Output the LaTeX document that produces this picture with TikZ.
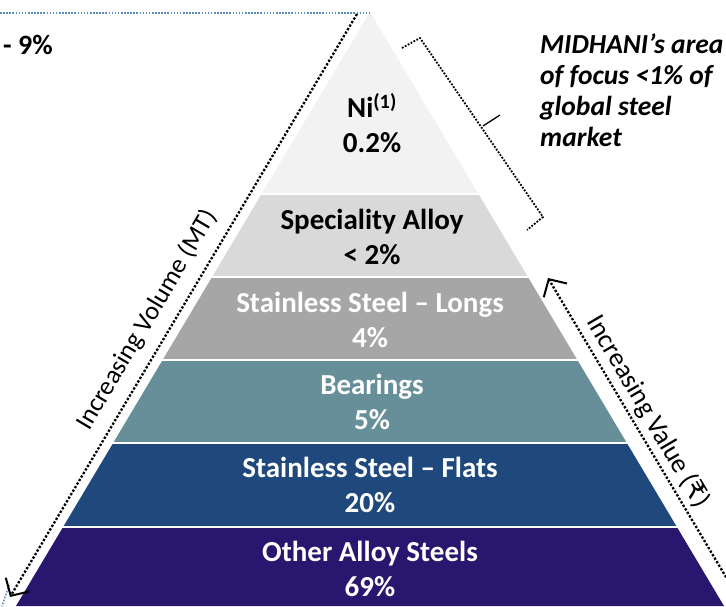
\documentclass[tikz,border=0pt]{standalone}
\usepackage{fontspec}
\setmainfont{Carlito}
\newfontfamily\dejavu{DejaVu Sans}
\usetikzlibrary{arrows.meta}
\definecolor{cNi}{HTML}{F2F2F2}
\definecolor{cSp}{HTML}{D9D9D9}
\definecolor{cLo}{HTML}{A6A6A6}
\definecolor{cBe}{HTML}{678F99}
\definecolor{cFl}{HTML}{1F497D}
\definecolor{cOt}{HTML}{28166F}
\definecolor{cBlue}{HTML}{5B8BC9}
\begin{document}
\begin{tikzpicture}[x=1pt,y=-1pt,
  layertext/.style={font=\bfseries\fontsize{29}{35}\selectfont, align=center},
  sidetext/.style={font=\fontsize{26}{28}\selectfont},
  dotline/.style={line width=2.3pt, dash pattern=on 2.3pt off 1.8pt, black},
  brk/.style={line width=1.8pt, dash pattern=on 1.8pt off 1.5pt, black},
  bluedot/.style={line width=1.6pt, dash pattern=on 1.6pt off 1.5pt, cBlue},
  barb/.style={-{Straight Barb[length=13pt,width=27pt,line width=2pt]}}
]
\useasboundingbox (0,0) rectangle (726,606);
\clip (0,0) rectangle (726,606);
% pyramid layers
\begin{scope}
  \clip (370,12) -- (724,606) -- (16,606) -- cycle;
  \fill[cNi] (0,0) rectangle (726,193);
  \fill[cSp] (0,195) rectangle (726,276);
  \fill[cLo] (0,278) rectangle (726,359);
  \fill[cBe] (0,361) rectangle (726,442);
  \fill[cFl] (0,444) rectangle (726,526);
  \fill[cOt] (0,528) rectangle (726,610);
\end{scope}
% layer texts
\node[layertext] (ni) at (372,123) {Ni\textsuperscript{(1)}\\0.2\%};
\node[layertext] (sp) at (372,237) {Speciality Alloy\\< 2\%};
\node[layertext, white] (lo) at (370,320) {Stainless Steel – Longs\\4\%};
\node[layertext, white] (be) at (372,402) {Bearings\\5\%};
\node[layertext, white] (fl) at (370,485) {Stainless Steel – Flats\\20\%};
\node[layertext, white] (ot) at (370,569) {Other Alloy Steels\\69\%};
% blue dotted cropped shapes
\coordinate (bl1) at (0,13); \coordinate (bl2) at (370,13);
\draw[bluedot] (bl1) -- (bl2);
\coordinate (bl3) at (9,585); \coordinate (bl4) at (2,606);
\draw[bluedot] (bl3) -- (bl4);
% volume arrow
\coordinate (vtop) at (357,14);
\coordinate (vbot) at (10,597);
\draw[dotline, barb] (vtop) -- (vbot);
\node[sidetext, rotate=59.2] (vol) at (147,320) {Increasing Volume (MT)};
% value arrow
\coordinate (valtop) at (548,278);
\coordinate (valbot) at (745,609);
\draw[dotline, barb] (valbot) -- (valtop);
\node[sidetext, rotate=-59.6, font=\fontsize{27}{28}\selectfont] (val) at (648,412) {Increasing Value ({\dejavu ₹})};
% bracket
\coordinate (b1) at (402,48);
\coordinate (b2) at (420,38);
\coordinate (b3) at (543,217);
\coordinate (b4) at (527,230);
\draw[brk] (b1) -- (b2) -- (b3) -- (b4);
\coordinate (bm) at (483,126);
\coordinate (bt) at (500,115);
\draw[line width=1.3pt] (bm) -- (bt);
% texts
\node[font=\bfseries\itshape\fontsize{27.5}{31}\selectfont, align=left, anchor=north west, inner sep=0pt] (mid) at (540,33)
  {MIDHANI’s area\\of focus <1\% of\\global steel\\market};
\node[font=\bfseries\fontsize{28}{30}\selectfont, anchor=west, inner sep=0pt] (nine) at (3,45) {- 9\%};
\end{tikzpicture}
\end{document}
